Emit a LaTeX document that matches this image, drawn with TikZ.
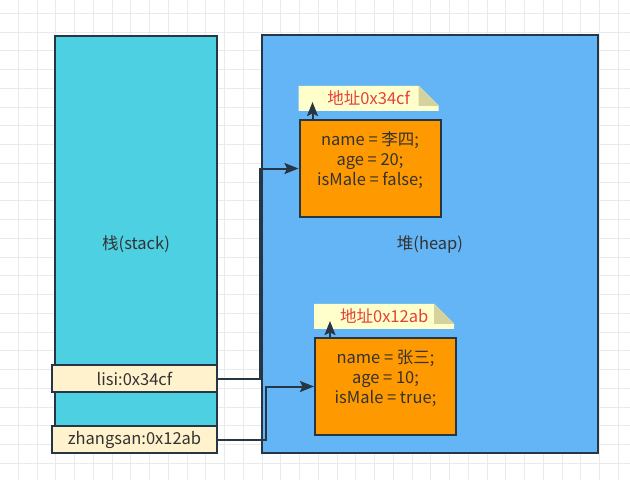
\documentclass[tikz,border=0pt]{standalone}
\usepackage{fontspec}
\setmainfont{Noto Sans CJK SC}
\usetikzlibrary{arrows.meta,positioning}

\definecolor{gridclr}{HTML}{EAEAEA}
\definecolor{lineclr}{HTML}{273645}
\definecolor{textclr}{HTML}{333333}
\definecolor{stackclr}{HTML}{4DD0E1}
\definecolor{heapclr}{HTML}{64B5F6}
\definecolor{objclr}{HTML}{FF9900}
\definecolor{varclr}{HTML}{FFF2CC}
\definecolor{noteclr}{HTML}{FFFFCC}
\definecolor{foldclr}{HTML}{D6D29C}
\definecolor{addrclr}{HTML}{E5413B}

\tikzset{
    area/.style={draw=lineclr, line width=2pt, rectangle, text=textclr, font=\fontsize{16.5}{20}\selectfont},
    var/.style={draw=lineclr, line width=2pt, fill=varclr, rectangle, minimum width=165pt, minimum height=27pt, inner sep=0pt, text=textclr, font=\fontsize{16.5}{20}\selectfont},
    object/.style={draw=lineclr, line width=2pt, fill=objclr, rectangle, minimum width=141pt, minimum height=97pt, inner sep=0pt},
    objtext/.style={anchor=north, yshift=-9pt, align=center, text=textclr, font=\fontsize{16.5}{20}\selectfont},
    note/.style={rectangle, minimum width=140pt, minimum height=25pt, inner sep=0pt, text=addrclr, font=\fontsize{16.5}{20}\selectfont,
        path picture={
            \fill[noteclr] (path picture bounding box.south west) -- (path picture bounding box.north west)
                -- ([xshift=-20pt]path picture bounding box.north east) -- ([yshift=-20pt]path picture bounding box.north east)
                -- (path picture bounding box.south east) -- cycle;
            \fill[foldclr] ([xshift=-20pt]path picture bounding box.north east) -- ([xshift=-20pt,yshift=-20pt]path picture bounding box.north east)
                -- ([yshift=-20pt]path picture bounding box.north east) -- cycle;
        }},
    link/.style={draw=lineclr, line width=2pt, -{Stealth[length=14pt,width=11pt,inset=2.5pt]}}
}

\begin{document}
\begin{tikzpicture}[x=1pt, y=-1pt]
    \useasboundingbox (0,0) rectangle (630,480);
    \fill[white] (0,0) rectangle (630,480);

    % Grid
    \foreach \i in {0,...,33} \draw[gridclr, line width=1pt] ({18.3+18.75*\i},0) -- ++(0,480);
    \foreach \j in {0,...,25} \draw[gridclr, line width=1pt] (0,{13.3+18.75*\j}) -- ++(630,0);

    % Stack and heap
    \node (Stack) [area, fill=stackclr, minimum width=162pt, minimum height=417pt] at (136,244.5) {栈(stack)};
    \node (Heap) [area, fill=heapclr, minimum width=336pt, minimum height=418pt] at (430,244) {堆(heap)};

    % Variables
    \node (Lisi) [var] at (134.5,378.5) {lisi:0x34cf};
    \node (Zhangsan) [var] at (134.5,439.5) {zhangsan:0x12ab};

    % Objects
    \node (LisiObj) [object, label={[objtext]north:{name = 李四;\\age = 20;\\isMale = false;}}] at (370,168.5) {};
    \node (ZhangsanObj) [object, label={[objtext]north:{name = 张三;\\age = 10;\\isMale = true;}}] at (385.5,386.5) {};

    % Addresses
    \node (LisiAddr) [note, above right=8pt and 0pt of LisiObj.north west] {地址0x34cf};
    \node (ZhangsanAddr) [note, above right=8pt and 0pt of ZhangsanObj.north west] {地址0x12ab};

    % Arrows
    \draw[link] (Lisi.east) -- ++(42,0) |- (LisiObj.west);
    \draw[link] (Zhangsan.east) -- ++(48,0) |- (ZhangsanObj.west);
    \draw[link] ([xshift=14pt]LisiObj.north west) -- ([xshift=14pt,yshift=9pt]LisiAddr.south west);
    \draw[link] ([xshift=16pt]ZhangsanObj.north west) -- ([xshift=16pt,yshift=8pt]ZhangsanAddr.south west);

\end{tikzpicture}
\end{document}
